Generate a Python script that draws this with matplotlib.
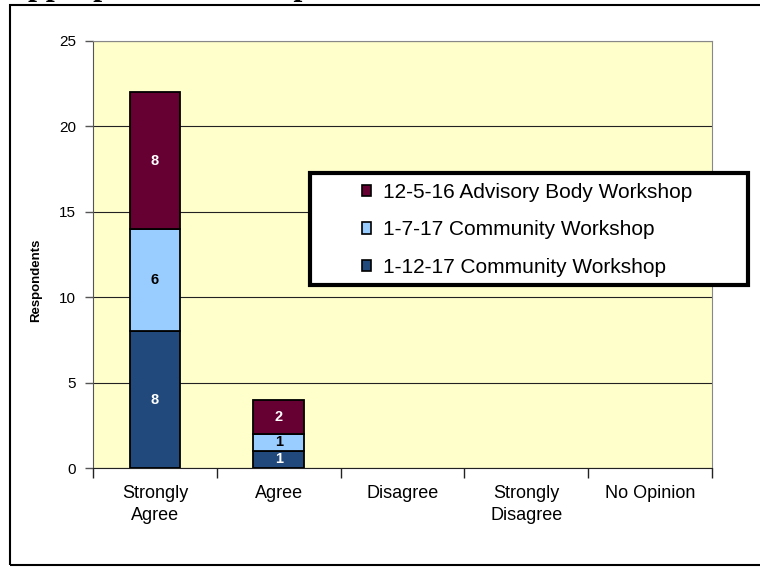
import numpy as np
import matplotlib
matplotlib.use("Agg")
import matplotlib.pyplot as plt
from matplotlib.patches import Rectangle

# -----------------------------
# data
# -----------------------------
categories = ["Strongly\nAgree", "Agree", "Disagree", "Strongly\nDisagree", "No Opinion"]
series_names = ["1-12-17 Community Workshop", "1-7-17 Community Workshop",
                "12-5-16 Advisory Body Workshop"]
ws_1_12_17 = [8, 1, 0, 0, 0]
ws_1_7_17 = [6, 1, 0, 0, 0]
ws_12_5_16 = [8, 2, 0, 0, 0]
yticks = [0, 5, 10, 15, 20, 25]

colors = ["#21497B", "#99CCFF", "#660033"]
label_colors = ["white", "black", "white"]

plt.rcParams["font.family"] = ["Liberation Sans", "DejaVu Sans"]

W, H = 760, 567
fig = plt.figure(figsize=(W / 100, H / 100), dpi=100)

# outer chart frame
fig.patches.append(Rectangle((10 / W, 2 / H), 1.0, (565 - 5) / H, transform=fig.transFigure,
                             fill=False, edgecolor="black", linewidth=1.5, clip_on=False))

# cropped title (only descenders visible)
fig.text(5 / W, 1 + 5 / H, "Appropriate Use of Space", family="Liberation Serif",
         fontweight="bold", fontsize=23, va="baseline", ha="left")

ax = fig.add_axes([93 / W, (H - 468) / H, (712 - 93) / W, (468 - 41) / H])
ax.set_facecolor("#FFFFCC")

x = np.arange(len(categories))
bottom = np.zeros(len(categories))
for vals, name, col, lc in zip([ws_1_12_17, ws_1_7_17, ws_12_5_16], series_names, colors, label_colors):
    bars = ax.bar(x, vals, 0.41, bottom=bottom, color=col, edgecolor="black",
                  linewidth=1.3, label=name, zorder=3)
    for b in bars:
        if b.get_height() == 0:
            b.set_linewidth(0)
    ax.bar_label(bars, labels=[str(v) if v else "" for v in vals], label_type="center",
                 color=lc, fontweight="bold", fontsize=10.5)
    bottom += np.array(vals)

ax.set_xlim(-0.5, len(categories) - 0.5)
ax.set_ylim(0, 25)
ax.set_yticks(yticks)
ax.yaxis.grid(True, color="#222222", linewidth=0.8, zorder=0)
ax.set_axisbelow(True)

ax.set_xticks(x)
ax.set_xticklabels(categories, fontsize=13, linespacing=1.4)
ax.set_xticks(np.arange(len(categories) + 1) - 0.5, minor=True)
ax.tick_params(axis="x", which="major", length=0, pad=12)
ax.tick_params(axis="x", which="minor", length=7, width=1, color="#222222")
ax.tick_params(axis="y", length=6, width=1, color="#555555", labelsize=11, pad=6)

for s in ["top", "right", "left"]:
    ax.spines[s].set_color("#888888")
ax.spines["bottom"].set_color("#222222")
ax.spines["left"].set_color("#555555")

ax.set_ylabel("Respondents", fontsize=9.5, fontweight="bold")
ax.yaxis.set_label_coords((42 - 93) / (712 - 93), 0.44)

# legend box
fig.patches.append(Rectangle((310 / W, (H - 285) / H), (748 - 310) / W, (285 - 173) / H,
                             transform=fig.transFigure, facecolor="white",
                             edgecolor="black", linewidth=3, zorder=4))
h, l = ax.get_legend_handles_labels()
leg = fig.legend(h[::-1], l[::-1], loc="center left",
                 bbox_to_anchor=(362 / W, (H - 230) / H), frameon=False, fontsize=15,
                 handlelength=0.45, handleheight=0.45, handletextpad=0.55,
                 labelspacing=0.88, borderpad=0, borderaxespad=0)
leg.set_zorder(5)
for p in leg.get_patches():
    p.set_linewidth(1.2)

plt.savefig("out.png", dpi=100)
